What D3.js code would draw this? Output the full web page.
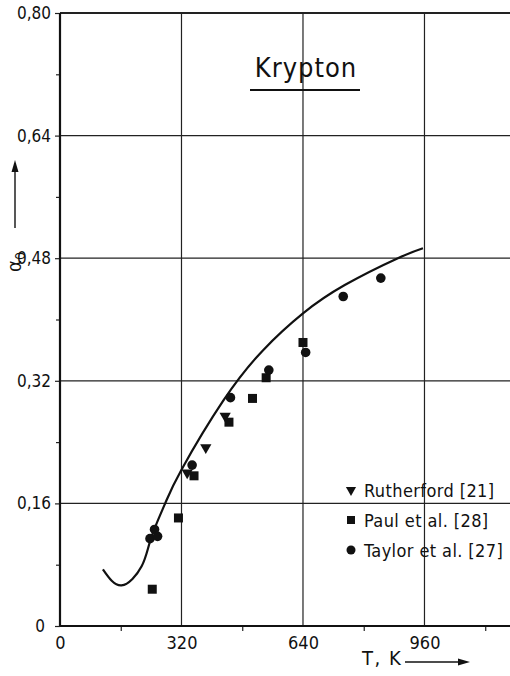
<!DOCTYPE html>
<html lang="en">
<head>
    <meta charset="UTF-8">
    <title>Krypton</title>
    <style>
        body { margin: 0; background: #fff; }
        text { font-family: "DejaVu Sans Condensed", "DejaVu Sans", sans-serif; fill: #111; }
    </style>
</head>
<body>
<script src="https://d3js.org/d3.v7.min.js"></script>
<script>
    // Data
    const curveT = [113, 162, 215, 240, 277, 320, 430, 535, 640, 750, 890, 956];
    const curveA = [0.074, 0.053, 0.078, 0.115, 0.160, 0.204, 0.294, 0.360, 0.408, 0.445, 0.480, 0.493];

    const rutherfordT = [335, 384, 435];
    const rutherfordA = [0.200, 0.233, 0.274];

    const paulT = [243, 312, 353, 445, 507, 543, 640];
    const paulA = [0.048, 0.141, 0.196, 0.266, 0.297, 0.324, 0.370];

    const taylorT = [237, 249, 257, 348, 449, 550, 647, 746, 845];
    const taylorA = [0.114, 0.126, 0.117, 0.210, 0.298, 0.334, 0.357, 0.430, 0.454];

    const xTicks = [0, 320, 640, 960];
    const xMinor = [160, 480, 800, 1120];
    const yTicks = [0, 0.16, 0.32, 0.48, 0.64, 0.80];
    const yMinor = [0.08, 0.24, 0.40, 0.56, 0.72];
    const legendLabels = ["Rutherford [21]", "Paul et al. [28]", "Taylor et al. [27]"];

    // Set Dimensions
    const width = 510;
    const height = 676;

    const svg = d3.select("body")
        .append("svg")
        .attr("width", width)
        .attr("height", height);

    const x = d3.scaleLinear().domain([0, 1200]).range([60, 515.6]);
    const y = d3.scaleLinear().domain([0, 0.80]).range([626, 13]);

    const fmt = d => d === 0 ? "0" : d3.format(".2f")(d).replace(".", ",");

    // grid
    svg.append("g")
        .selectAll("line")
        .data(yTicks.slice(1))
        .join("line")
        .attr("x1", x(0)).attr("x2", width)
        .attr("y1", d => y(d)).attr("y2", d => y(d))
        .attr("stroke", "#222")
        .attr("stroke-width", d => d === 0.80 ? 2 : 1.2);
    svg.append("g")
        .selectAll("line")
        .data(xTicks.slice(1))
        .join("line")
        .attr("x1", d => x(d)).attr("x2", d => x(d))
        .attr("y1", y(0)).attr("y2", y(0.80))
        .attr("stroke", "#222")
        .attr("stroke-width", 1.2);

    // bottom axis
    const xAxis = svg.append("g")
        .attr("transform", `translate(0,${y(0)})`)
        .call(d3.axisBottom(x).tickValues(xTicks).tickSize(0).tickPadding(10).tickFormat(d3.format("d")));
    xAxis.select(".domain").remove();
    xAxis.selectAll("text").attr("font-size", 18).attr("fill", "#111");
    svg.append("g")
        .attr("transform", `translate(0,${y(0)})`)
        .call(d3.axisBottom(x).tickValues(xMinor).tickSize(5).tickFormat(""))
        .select(".domain").remove();

    // left axis
    const yAxis = svg.append("g")
        .attr("transform", `translate(${x(0)},0)`)
        .call(d3.axisLeft(y).tickValues(yTicks).tickSize(5).tickPadding(4).tickFormat(fmt));
    yAxis.select(".domain").remove();
    yAxis.selectAll("text").attr("font-size", 17).attr("fill", "#111");
    yAxis.selectAll("text").filter(d => d === 0).attr("dx", -6);
    svg.append("g")
        .attr("transform", `translate(${x(0)},0)`)
        .call(d3.axisLeft(y).tickValues(yMinor).tickSize(4).tickFormat(""))
        .select(".domain").remove();

    svg.selectAll(".tick line").attr("stroke", "#222").attr("stroke-width", 1.2);

    // axis lines
    svg.append("line")
        .attr("x1", x(0)).attr("x2", width)
        .attr("y1", y(0)).attr("y2", y(0))
        .attr("stroke", "#111").attr("stroke-width", 2);
    svg.append("line")
        .attr("x1", x(0)).attr("x2", x(0))
        .attr("y1", y(0)).attr("y2", y(0.80))
        .attr("stroke", "#111").attr("stroke-width", 2.2);

    // curve
    const curveData = curveT.map((t, i) => ({t: t, a: curveA[i]}));
    svg.append("path")
        .datum(curveData)
        .attr("fill", "none")
        .attr("stroke", "#111")
        .attr("stroke-width", 2.2)
        .attr("d", d3.line()
            .x(d => x(d.t))
            .y(d => y(d.a))
            .curve(d3.curveNatural));

    // markers
    const tri = d3.symbol().type(d3.symbolTriangle).size(55);
    svg.append("g")
        .selectAll("path")
        .data(rutherfordT.map((t, i) => ({t: t, a: rutherfordA[i]})))
        .join("path")
        .attr("d", tri)
        .attr("transform", d => `translate(${x(d.t)},${y(d.a)}) rotate(180)`)
        .attr("fill", "#111");
    svg.append("g")
        .selectAll("rect")
        .data(paulT.map((t, i) => ({t: t, a: paulA[i]})))
        .join("rect")
        .attr("x", d => x(d.t) - 4.5)
        .attr("y", d => y(d.a) - 4.5)
        .attr("width", 9).attr("height", 9)
        .attr("fill", "#111");
    svg.append("g")
        .selectAll("circle")
        .data(taylorT.map((t, i) => ({t: t, a: taylorA[i]})))
        .join("circle")
        .attr("cx", d => x(d.t))
        .attr("cy", d => y(d.a))
        .attr("r", 4.8)
        .attr("fill", "#111");

    // legend
    const legend = svg.append("g").attr("transform", "translate(351,490)");
    legendLabels.forEach((label, i) => {
        const g = legend.append("g").attr("transform", `translate(0,${i * 30})`);
        if (i === 0) {
            g.append("path").attr("d", d3.symbol().type(d3.symbolTriangle).size(45))
                .attr("transform", "rotate(180)").attr("fill", "#111");
        } else if (i === 1) {
            g.append("rect").attr("x", -4).attr("y", -4).attr("width", 8).attr("height", 8).attr("fill", "#111");
        } else {
            g.append("circle").attr("r", 4.5).attr("fill", "#111");
        }
        g.append("text")
            .attr("x", 13)
            .attr("y", 7)
            .attr("font-size", 18)
            .attr("letter-spacing", 0.4)
            .text(label);
    });

    // title
    svg.append("text")
        .attr("x", 306)
        .attr("y", 77)
        .attr("text-anchor", "middle")
        .attr("font-family", "DejaVu Sans")
        .attr("font-size", 27)
        .attr("letter-spacing", 1)
        .text("Krypton");
    svg.append("line")
        .attr("x1", 250).attr("x2", 360)
        .attr("y1", 90).attr("y2", 90)
        .attr("stroke", "#111").attr("stroke-width", 2.2);

    // axis titles
    svg.append("text")
        .attr("x", 362)
        .attr("y", 665)
        .attr("font-size", 20)
        .attr("letter-spacing", 1.5)
        .text("T, K");
    svg.append("line")
        .attr("x1", 405).attr("x2", 462)
        .attr("y1", 662).attr("y2", 662)
        .attr("stroke", "#111").attr("stroke-width", 1.4);
    svg.append("path")
        .attr("d", "M470,662 L458,658.5 L458,665.5 Z")
        .attr("fill", "#111");

    svg.append("text")
        .attr("transform", "translate(21,262) rotate(-90)")
        .attr("text-anchor", "middle")
        .attr("font-size", 20)
        .text("α")
        .append("tspan")
        .attr("font-size", 14)
        .attr("dy", 4)
        .text("0");
    svg.append("line")
        .attr("x1", 15).attr("x2", 15)
        .attr("y1", 170).attr("y2", 228)
        .attr("stroke", "#111").attr("stroke-width", 1.4);
    svg.append("path")
        .attr("d", "M15,160 L11.5,172 L18.5,172 Z")
        .attr("fill", "#111");
</script>
</body>
</html>
